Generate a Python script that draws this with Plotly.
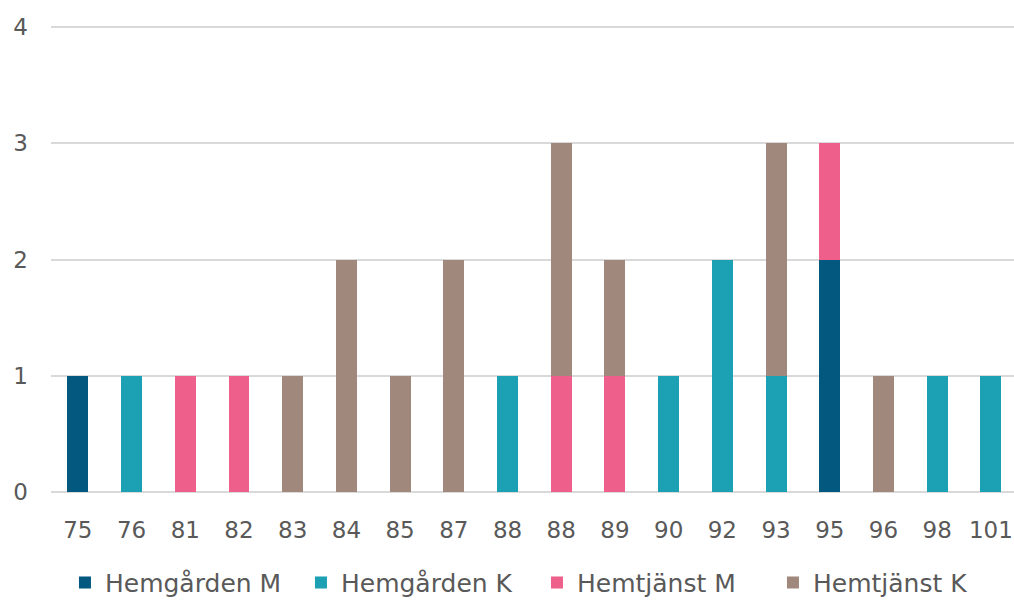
import plotly.graph_objects as go

# Age of each person (the value 88 occurs twice, each as its own column)
ages = ["75", "76", "81", "82", "83", "84", "85", "87", "88", "88",
        "89", "90", "92", "93", "95", "96", "98", "101"]

hemgarden_m = [1, 0, 0, 0, 0, 0, 0, 0, 0, 0, 0, 0, 0, 0, 2, 0, 0, 0]
hemgarden_k = [0, 1, 0, 0, 0, 0, 0, 0, 1, 0, 0, 1, 2, 1, 0, 0, 1, 1]
hemtjanst_m = [0, 0, 1, 1, 0, 0, 0, 0, 0, 1, 1, 0, 0, 0, 1, 0, 0, 0]
hemtjanst_k = [0, 0, 0, 0, 1, 2, 1, 2, 0, 2, 1, 0, 0, 2, 0, 1, 0, 0]

series = [
    ("Hemgården M", hemgarden_m, "#03587f"),
    ("Hemgården K", hemgarden_k, "#1ba0b4"),
    ("Hemtjänst M", hemtjanst_m, "#ef5f8c"),
    ("Hemtjänst K", hemtjanst_k, "#a1887d"),
]

positions = list(range(len(ages)))
font_family = "DejaVu Sans"
text_color = "#595959"

fig = go.Figure()
for name, values, color in series:
    fig.add_trace(go.Bar(
        x=positions,
        y=[v if v else None for v in values],
        name=name,
        marker=dict(color=color, line=dict(width=0)),
        width=0.39,
    ))

fig.update_layout(
    barmode="stack",
    width=1014,
    height=601,
    margin=dict(l=51, r=0, t=26, b=109, autoexpand=False),
    paper_bgcolor="white",
    plot_bgcolor="white",
    font=dict(family=font_family, size=23, color=text_color),
    showlegend=True,
    legend=dict(
        orientation="h",
        x=0.0145, xanchor="left",
        y=-0.195, yanchor="middle",
        font=dict(size=25, color=text_color),
        traceorder="normal",
        itemwidth=30,
        entrywidth=191,
        entrywidthmode="pixels",
    ),
    xaxis=dict(
        range=[-0.5, 17.43],
        tickmode="array",
        tickvals=positions,
        ticktext=ages,
        showgrid=False,
        zeroline=False,
        showline=False,
        ticks="outside",
        ticklen=17,
        tickcolor="rgba(0,0,0,0)",
    ),
    yaxis=dict(
        range=[0, 4.01],
        tickvals=[0, 1, 2, 3, 4],
        showgrid=True,
        gridcolor="#d9d9d9",
        gridwidth=2,
        zeroline=True,
        zerolinecolor="#d9d9d9",
        zerolinewidth=2,
        showline=False,
        ticklabelstandoff=22,
    ),
)

fig.write_html("out.html")
